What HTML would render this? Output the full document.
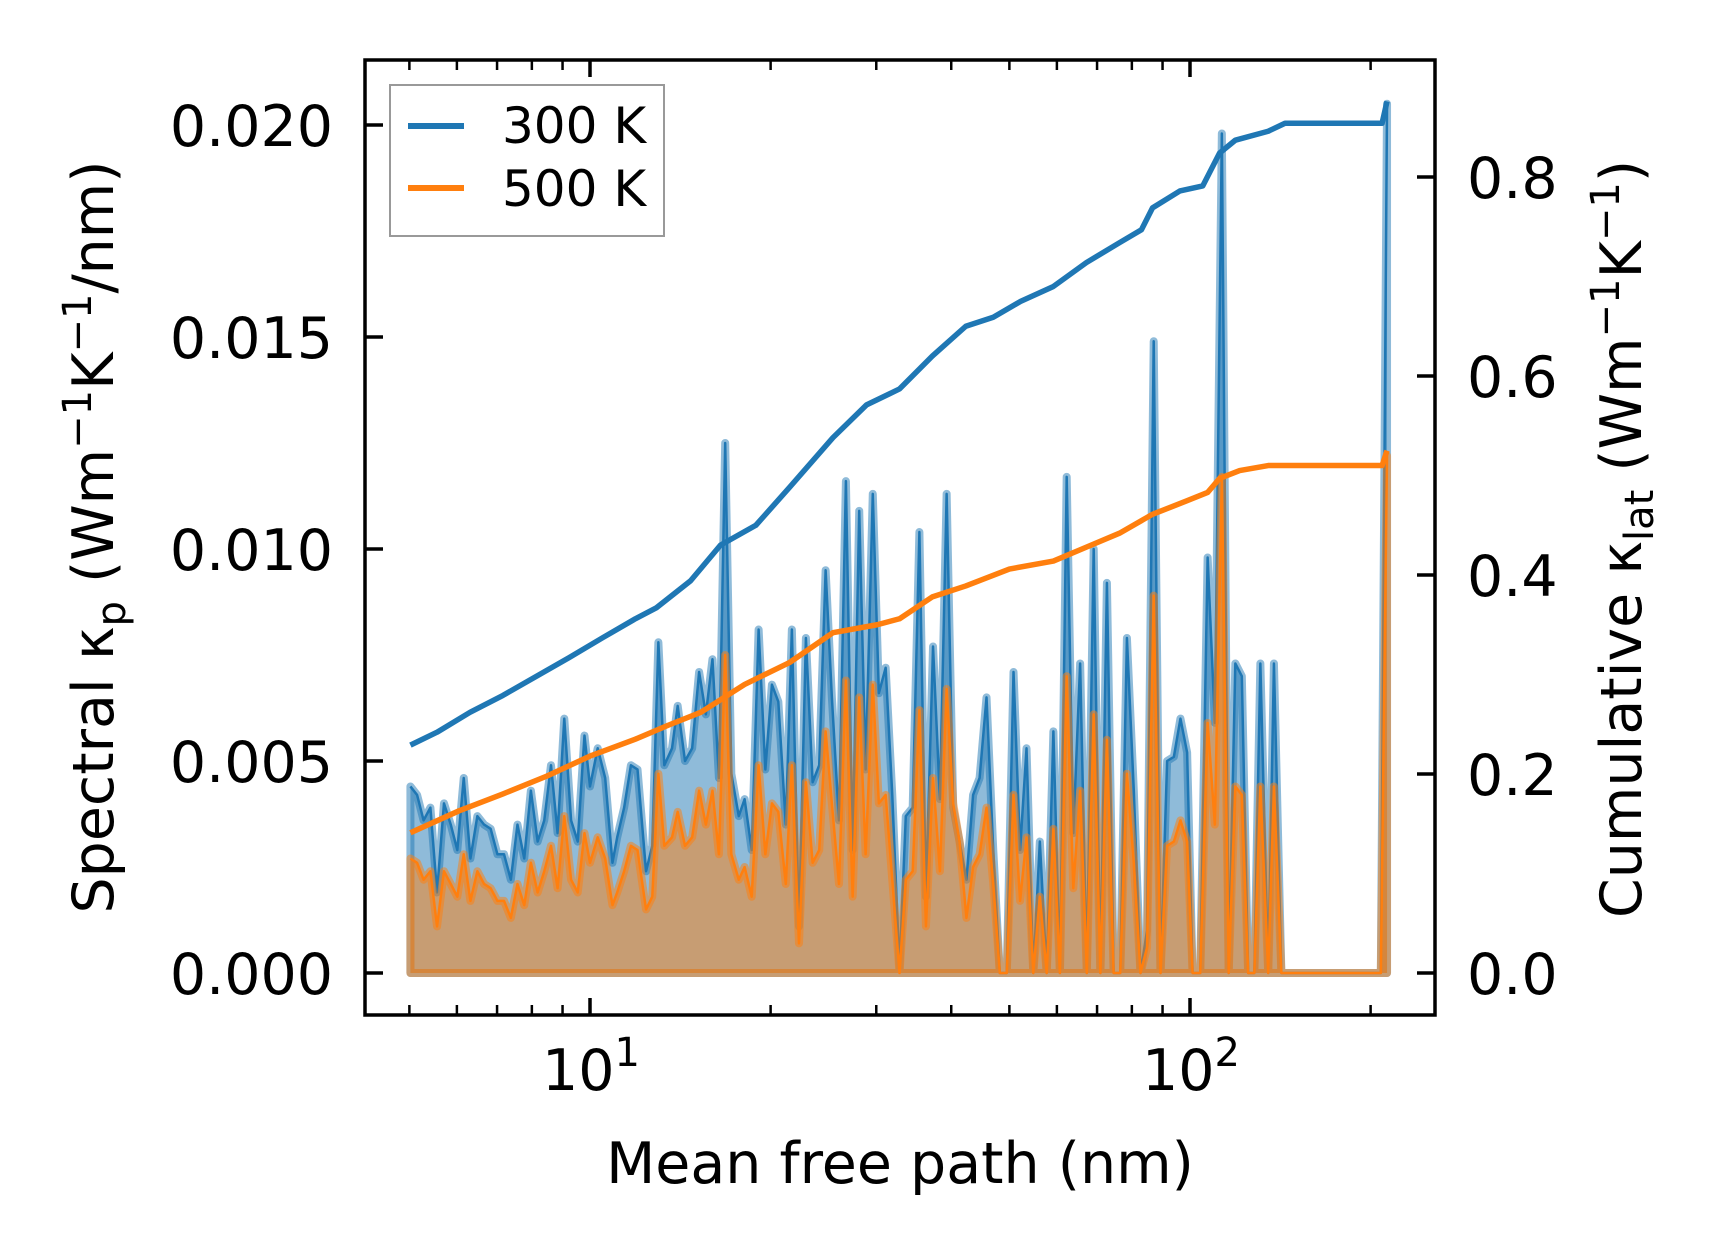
<!DOCTYPE html>
<html><head><meta charset="utf-8"><style>
html,body{margin:0;padding:0;background:#fff;}
svg{display:block;font-family:"DejaVu Sans","Liberation Sans",sans-serif;}
</style></head><body>
<svg id="chart" width="1716" height="1254" viewBox="0 0 1716 1254" xmlns="http://www.w3.org/2000/svg">
<rect x="0" y="0" width="1716" height="1254" fill="#fff"/>
<g id="plot"></g>
<g id="axes"></g>
<text x="900" y="1183" font-size="57" text-anchor="middle">Mean free path (nm)</text>
<text transform="translate(113,537) rotate(-90)" font-size="57" text-anchor="middle">Spectral κ<tspan font-size="40" dy="12">p</tspan><tspan dy="-12"> (Wm</tspan><tspan font-size="40" dy="-22">−1</tspan><tspan dy="22">K</tspan><tspan font-size="40" dy="-22">−1</tspan><tspan dy="22">/nm)</tspan></text>
<text transform="translate(1641,539) rotate(-90)" font-size="57" text-anchor="middle">Cumulative κ<tspan font-size="40" dy="12">lat</tspan><tspan dy="-12"> (Wm</tspan><tspan font-size="40" dy="-22">−1</tspan><tspan dy="22">K</tspan><tspan font-size="40" dy="-22">−1</tspan><tspan dy="22">)</tspan></text>
<g>
<rect x="390" y="85" width="274" height="151" fill="#fff" fill-opacity="0.8" stroke="#999" stroke-width="2"/>
<line x1="408" y1="126" x2="464" y2="126" stroke="#1f77b4" stroke-width="6"/>
<text x="502" y="143" font-size="50">300 K</text>
<line x1="408" y1="188" x2="464" y2="188" stroke="#ff7f0e" stroke-width="6"/>
<text x="502" y="206" font-size="50">500 K</text>
</g>
</svg>
<script>
const spectral300 = [.0044,.0042,.0036,.0039,.0019,.0040,.0035,.0029,.0046,.0027,.0037,.0035,.0034,.0028,.0028,.0022,.0035,.0027,.0043,.0031,.0036,.0049,.0033,.0060,.0036,.0031,.0056,.0044,.0053,.0046,.0026,.0032,.0039,.0049,.0048,.0024,.0030,.0078,.0049,.0053,.0063,.0050,.0053,.0071,.0061,.0074,.0046,.0125,
.0047,.0037,
.0041,.0029,.0081,.0048,.0068,.0064,.0035,.0081,.0011,.0079,.0045,.0049,.0095,.0065,.0036,.0116,.0029,.0109,.0048,.0113,.0066,.0072,.0042,.0001,.0037,.0039,.0104,.0018,.0077,.0041,.0113,.0039,.0031,.0022,.0042,.0046,.0065,.0029,0,0,.0071,.0029,.0053,0,.0031,0,.0057,0,.0117,.0033,
.0073,0,.0100,0,.0092,0,0,.0079,.0043,0,.0010,.0149,0,.0050,.0051,.0060,.0052,0,0,.0098,.0059,.0198,0,.0073,.0070,0,0,.0073,0,.0073,0,
0,0,0,0,0,0,0,0,0,0,0,0,0,0,0,.0205];
const spectral500 = [.0027,.0026,.0022,.0024,.0011,.0024,.0021,.0018,.0028,.0017,.0024,.0021,.0020,.0017,.0017,.0013,.0021,.0016,.0026,.0019,.0024,.0030,.0020,.0037,.0022,.0019,.0033,.0026,.0032,.0027,.0016,.0019,.0024,.0030,.0029,.0015,.0018,.0047,.0030,.0032,.0038,.0030,.0032,.0043,.0035,.0043,.0028,.0075,
.0028,.0022,
.0025,.0018,.0049,.0028,.0040,.0038,.0021,.0049,.0007,.0045,.0026,.0029,.0057,.0040,.0021,.0069,.0018,.0065,.0028,.0068,.0040,.0042,.0022,0,.0022,.0024,.0062,.0011,.0046,.0024,.0067,.0040,.0031,.0013,.0025,.0028,.0039,.0021,0,0,.0042,.0017,.0032,0,.0018,0,.0034,0,.0070,.0020,
.0043,0,.0061,0,.0055,0,0,.0047,.0026,0,.0006,.0089,0,.0030,.0031,.0036,.0031,0,0,.0059,.0035,.0117,0,.0044,.0042,0,0,.0044,0,.0044,0,
0,0,0,0,0,0,0,0,0,0,0,0,0,0,0,.0122];
const mfp = [5.02,5.15,5.28,5.42,5.56,5.71,5.86,6.01,6.16,6.32,6.49,6.66,6.83,7.01,7.19,7.38,7.57,7.77,7.97,8.18,8.39,8.61,8.83,9.06,9.30,9.54,9.79,10.0,10.3,10.6,10.9,11.1,11.4,11.7,12.0,12.4,12.7,13.0,13.3,13.7,14.0,14.4,14.8,15.2,15.6,16.0,16.4,16.8,
17.2,17.7,
18.1,18.6,19.1,19.6,20.1,20.6,21.2,21.7,22.3,22.9,23.5,24.1,24.7,25.3,26.0,26.7,27.4,28.1,28.8,29.6,30.3,31.1,31.9,32.8,33.6,34.5,35.4,36.3,37.3,38.3,39.3,40.3,41.3,42.4,43.5,44.6,45.8,47.0,48.2,49.5,50.8,52.1,53.4,54.8,56.2,57.7,59.2,60.7,62.3,63.9,
65.6,67.3,69.1,70.9,72.7,74.6,76.5,78.5,80.6,82.7,84.8,87.0,89.3,91.6,94.0,96.4,98.9,101,104,107,110,113,116,119,122,125,128,131,135,138,142,
146,149,153,157,161,165,170,174,179,183,188,193,198,203,208,213];
const cumX300 = [5.02,5.56,6.31,7.16,8.13,9.23,10.5,11.9,12.9,14.7,16.5,18.9,21.5,25.4,28.9,32.8,37.2,42.3,47.0,52.2,59.2,67.2,76.3,83.0,86.6,96.2,105,112,119,135,144,209,213];
const cum300 = [.229,.242,.262,.279,.298,.317,.337,.356,.367,.394,.430,.450,.488,.538,.571,.587,.620,.650,.659,.675,.690,.714,.734,.747,.769,.786,.791,.824,.837,.846,.854,.854,.876];
const cumX500 = [5.02,6.05,7.16,8.48,10.0,11.9,13.5,15.3,18.1,21.5,25.4,30.1,32.8,37.2,42.3,50.0,59.2,67.2,76.3,86.6,98.3,107,112,121,135,209,213];
const cum500 = [.141,.163,.180,.198,.218,.235,.249,.262,.290,.312,.342,.350,.356,.378,.389,.406,.414,.428,.442,.461,.474,.483,.497,.505,.510,.510,.525];
const leftTicks = [0, 0.005, 0.010, 0.015, 0.020];
const leftTickLabels = ["0.000","0.005","0.010","0.015","0.020"];
const rightTicks = [0, 0.2, 0.4, 0.6, 0.8];
const rightTickLabels = ["0.0","0.2","0.4","0.6","0.8"];
const xMajor = [10, 100];
const xMajorExp = ["1","2"];
const xMinor = [5,6,7,8,9,20,30,40,50,60,70,80,90,200];

const NS = "http://www.w3.org/2000/svg";
const AX = {l:365, r:1435, t:60, b:1015};
function xS(v){ return 590 + 600*(Math.log10(v)-1); }
function yL(v){ return 973 - v/0.005*212; }
function yR(v){ return 973 - v/0.2*199; }
function mk(tag, attrs, parent){ const e=document.createElementNS(NS,tag); for(const k in attrs) e.setAttribute(k, attrs[k]); parent.appendChild(e); return e; }

const plot = document.getElementById('plot');
const axes = document.getElementById('axes');

function drawSpectral(vals, color, name){
  let line = vals.map((v,i)=>xS(mfp[i]).toFixed(2)+','+yL(v).toFixed(2));
  const x0 = xS(mfp[0]).toFixed(2), xn = xS(mfp[vals.length-1]).toFixed(2), y0 = yL(0).toFixed(2);
  const poly = [x0+','+y0].concat(line).concat([xn+','+y0]).join(' ');
  const f = mk('polygon', {points: poly, fill: color, 'fill-opacity': 0.5, stroke: color, 'stroke-opacity': 0.5, 'stroke-width': 8, 'stroke-linejoin':'round'}, plot);
  
  
  const l = mk('polyline', {points: line.join(' '), fill: 'none', stroke: color, 'stroke-width': 2.5, 'stroke-linejoin':'round'}, plot);
  
  
}
drawSpectral(spectral300, '#1f77b4', 'spectral-300k');
drawSpectral(spectral500, '#ff7f0e', 'spectral-500k');

function drawCum(xs, vals, color, name){
  const pts = vals.map((v,i)=>xS(xs[i]).toFixed(2)+','+yR(v).toFixed(2)).join(' ');
  const l = mk('polyline', {points: pts, fill:'none', stroke: color, 'stroke-width': 5.5, 'stroke-linejoin':'round'}, plot);
  
  
}
drawCum(cumX300, cum300, '#1f77b4', 'cumulative-300k-line');
drawCum(cumX500, cum500, '#ff7f0e', 'cumulative-500k-line');

const fr = mk('rect', {x:AX.l, y:AX.t, width:AX.r-AX.l, height:AX.b-AX.t, fill:'none', stroke:'#000', 'stroke-width':3.5}, axes);



leftTicks.forEach((v,i)=>{
  const y = yL(v);
  const t = mk('line', {x1:AX.l, x2:AX.l+18, y1:y, y2:y, stroke:'#000', 'stroke-width':3.5}, axes);
  
  
  const lb = mk('text', {x:333, y:y+21, 'font-size':57, 'text-anchor':'end'}, axes);
  lb.textContent = leftTickLabels[i];
  
  
});
rightTicks.forEach((v,i)=>{
  const y = yR(v);
  const t = mk('line', {x1:AX.r-18, x2:AX.r, y1:y, y2:y, stroke:'#000', 'stroke-width':3.5}, axes);
  
  
  const lb = mk('text', {x:1467, y:y+21, 'font-size':57}, axes);
  lb.textContent = rightTickLabels[i];
  
  
});
xMajor.forEach((v,i)=>{
  const x = xS(v);
  [[AX.b, AX.b-17],[AX.t, AX.t+17]].forEach(p=>{
    const t = mk('line', {x1:x, x2:x, y1:p[0], y2:p[1], stroke:'#000', 'stroke-width':3.5}, axes);
    
    
  });
  const lb = mk('text', {x:x-48, y:1090, 'font-size':57}, axes);
  
  
  lb.textContent = '10';
  const sp = mk('tspan', {'font-size':40, dy:-24}, lb);
  sp.textContent = xMajorExp[i];
});
xMinor.forEach(v=>{
  const x = xS(v);
  [[AX.b, AX.b-10],[AX.t, AX.t+10]].forEach(p=>{
    const t = mk('line', {x1:x, x2:x, y1:p[0], y2:p[1], stroke:'#000', 'stroke-width':2.5}, axes);
    
    
  });
});
</script>
</body></html>
